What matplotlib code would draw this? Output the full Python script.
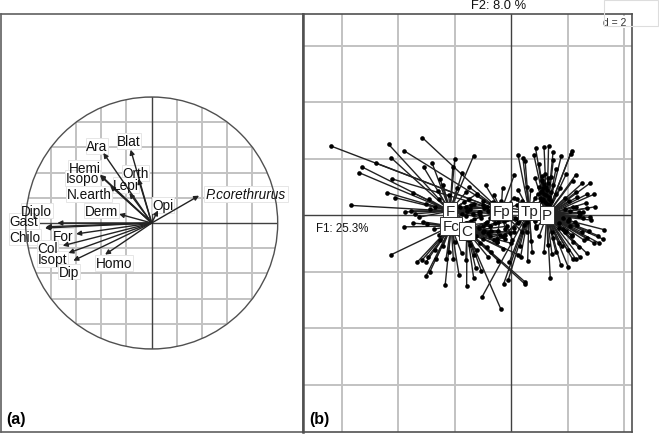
import matplotlib
matplotlib.use("Agg")
import matplotlib.pyplot as plt
from matplotlib.patches import Circle, Rectangle

plt.rcParams["font.family"] = ["Liberation Sans", "DejaVu Sans"]

# (a) correlation circle
species = ["P.corethrurus", "Opi", "Blat", "Ara", "Orth", "Lepi", "Hemi", "Isopo", "N.earth", "Derm",
           "Diplo", "Gast", "Chilo", "For", "Col", "Isopt", "Dip", "Homo"]
load_f1 = [0.376, 0.05, -0.167, -0.384, -0.106, -0.177, -0.41, -0.41, -0.33, -0.259,
           -0.749, -0.847, -0.84, -0.60, -0.706, -0.661, -0.622, -0.37]
load_f2 = [0.217, 0.10, 0.582, 0.556, 0.35, 0.238, 0.384, 0.376, 0.296, 0.071,
           0.0, -0.04, -0.03, -0.087, -0.18, -0.238, -0.299, -0.251]
label_x = [0.75, 0.09, -0.18, -0.434, -0.13, -0.204, -0.53, -0.548, -0.498, -0.397,
           -0.913, -1.013, -1.005, -0.70, -0.828, -0.786, -0.656, -0.299]
label_y = [0.23, 0.143, 0.65, 0.61, 0.397, 0.302, 0.437, 0.357, 0.23, 0.098,
           0.098, 0.016, -0.111, -0.103, -0.198, -0.286, -0.386, -0.317]

# (b) site scores by land use
centre_names = ["F", "Fc", "C", "Fp", "Tp", "P"]
centre_x = [-2.16, -2.12, -1.56, -0.35, 0.64, 1.27]
centre_y = [0.14, -0.39, -0.57, 0.14, 0.14, 0.0]

f_x = [-4.33, -4.25, -5.27, -5.38, -2.79, -3.09, -1.99, -2.06, -1.72, -1.32, -2.51, -4.38, -4.10, -3.48,
       -5.67, -3.74, -3.55, -3.41, -3.27, -2.9, -2.6, -2.4, -2.2, -1.9, -1.6, -3.0, -2.7, -1.5, -1.2, -1.0,
       -1.8, -1.65, -1.45, -1.3, -1.15, -0.95, -1.75, -1.55, -1.4, -1.1, -0.8, -2.85, -2.55, -2.3,
       -1.85, -1.6, -1.35, -1.05, -0.85, -0.65]
f_y = [2.50, 2.03, 1.70, 1.50, 1.83, 1.69, 1.98, 1.69, 1.50, 2.10, 1.28, 0.79, 0.61, 0.79,
       0.34, 0.11, 0.15, 0.04, -0.08, 0.55, 0.85, 1.05, 0.7, 0.95, 0.8, 0.4, 0.3, 0.55, 0.75, 0.35,
       0.3, 0.45, 0.2, 0.4, 0.1, 0.25, 0.05, 0.15, 0.35, 0.0, 0.15, 0.2, 0.55, 0.4,
       -0.1, -0.05, 0.05, -0.1, 0.3, 0.05]
fc_x = [-3.78, -3.46, -3.13, -2.96, -2.71, -2.56, -4.25, -3.32, -3.15, -3.01, -2.65, -2.87, -3.01, -2.33,
        -2.04, -1.84, -2.4, -2.2, -2.7, -2.0, -1.75, -1.5, -2.95, -2.5, -2.3, -1.2,
        -1.6, -1.4, -1.15, -0.9, -0.7, -1.8, -1.55, -1.25, -1.0, -0.75]
fc_y = [-0.42, -0.29, -0.24, -0.31, -0.50, -0.70, -1.41, -1.67, -1.60, -1.67, -1.56, -2.01, -2.16, -2.48,
        -1.56, -2.12, -1.1, -1.3, -1.25, -0.95, -1.35, -0.9, -1.5, -0.9, -1.55, -1.25,
        -0.3, -0.2, -0.45, -0.3, -0.55, -0.7, -0.8, -0.75, -0.85, -0.4]
c_x = [-1.57, -1.32, -1.25, -1.05, -0.36, -0.45, -0.86, -0.98, -0.27, -1.6, -1.3, -0.8, -0.6, -0.4,
       -1.1, -0.7, -0.2, 0.0, -1.45, -0.95, 0.51, 0.50, 0.25, 0.1, -0.55, -0.15,
       -0.85, -0.65, -0.45, -0.25, -0.05, 0.2, -0.75, -0.5, -0.3]
c_y = [-2.50, -2.24, -1.88, -1.98, -3.33, -1.62, -1.14, -0.61, -1.20, -1.6, -1.4, -1.5, -0.9, -0.7,
       -1.0, -1.3, -0.85, -1.0, -1.05, -0.55, -2.38, -2.45, -1.4, -0.6, -0.3, -0.4,
       -0.25, -0.15, -0.55, -0.2, -0.65, -0.15, -0.75, -0.95, -0.75]
fp_x = [-3.78, -4.78, -4.22, -3.14, -6.37, 0.12, -1.5, -1.2, -0.9, -0.7, -0.6, -0.45, -1.3, -1.0, -0.8,
        -0.5, -0.2, 0.05, 0.25, -1.6, -1.1, -0.75, -0.3, 0.1, 0.4,
        -1.0, -0.65, -0.35, -0.1, 0.2, 0.45, 0.15, -0.15, -0.45]
fp_y = [2.27, 1.84, 1.28, 2.74, 2.44, 1.43, 1.0, 0.7, 1.05, 0.42, 0.72, 0.2, -0.15, -0.4, -0.65,
        -0.85, -0.5, -0.9, -0.3, 0.3, 0.1, -0.1, 0.95, 0.6, -0.6,
        0.5, 0.45, 0.5, 0.4, 0.35, 0.1, -0.1, -0.15, -0.25]
tp_x = [0.25, 0.42, 0.50, 0.26, 0.58, -0.10, -0.26, -1.03, 0.34, -0.06, 0.59, 0.71, 0.32, 0.7, 0.85, 0.4,
        0.1, -0.2, -0.5, 0.55, 0.9, 0.2, -0.1, 0.75,
        0.95, 1.05, 0.85, 0.95, 0.7, 0.55, 0.3, 0.45, 0.85]
tp_y = [2.12, 2.02, 1.92, 0.87, 0.98, -2.31, -2.44, -2.91, -1.48, -1.67, -1.63, -0.91, -1.09, 0.9, 0.6, 0.5,
        -0.45, -0.7, -0.95, -0.6, -0.4, 0.55, 0.25, -1.3,
        0.75, 0.5, 0.35, 0.25, 0.35, -0.25, -0.2, -0.35, -0.2]
p_x = [0.87, 1.17, 1.33, 1.49, 1.78, 2.15, 2.11, 0.81, 1.50, 0.99, 1.59, 1.95, 2.29, 2.52, 2.80, 2.18,
       2.68, 2.93, 2.30, 2.33, 2.65, 2.98, 2.68, 2.80, 2.83, 3.30, 3.25, 3.08, 3.13, 2.95, 2.77, 2.68,
       2.68, 2.44, 2.29, 2.18, 2.02, 1.76, 1.59, 1.45, 1.17, 1.39, 0.85, 1.09,
       1.0, 1.1, 1.2, 1.3, 1.4, 1.05, 1.15, 1.25, 1.35, 1.5, 1.6, 1.75, 1.9, 2.05, 2.2, 2.4, 2.55,
       1.7, 1.85, 2.0, 2.15, 2.35, 2.5, 2.6, 1.8, 2.0, 2.2, 2.4, 1.5, 1.7, 1.9, 2.1, 1.3, 1.45, 1.0, 0.9,
       1.02, 1.1, 1.18, 1.26, 1.34, 1.42, 1.08, 1.16, 1.24, 1.32, 1.4, 1.12, 1.2, 1.28, 1.36,
       1.9, 2.1, 2.3, 2.45, 2.55, 1.85, 2.05, 2.25, 2.4, 1.7, 1.95, 2.15]
p_y = [2.36, 2.41, 2.45, 2.24, 2.09, 2.28, 2.16, 2.12, 1.95, 1.81, 1.63, 1.44, 1.42, 1.12, 1.13, 1.20,
       0.73, 0.73, 0.81, 0.63, 0.42, 0.29, 0.24, -0.08, -0.18, -0.52, -0.85, -0.73, -1.00, -1.00, -0.56, -0.81,
       -1.35, -1.50, -1.56, -1.56, -1.83, -1.76, -1.32, -1.38, -1.32, -2.23, 1.30, 1.39,
       1.0, 1.25, 1.45, 1.15, 1.35, 0.8, 0.95, 0.7, 0.55, 1.05, 0.75, 0.95, 0.6, 0.5, 0.3, 0.1, -0.1,
       -0.3, -0.5, -0.2, -0.7, -0.35, -0.6, -0.9, -1.1, -1.25, -0.95, -1.15, -0.8, -1.0, -0.6, -0.4, -1.05, -0.6, -0.75, -0.45,
       0.6, 0.85, 1.1, 0.9, 0.65, 0.5, 1.2, 0.75, 1.0, 1.3, 0.8, 0.55, 0.45, 0.4, 0.35,
       0.2, 0.15, 0.3, 0.05, 0.1, -0.1, -0.15, -0.25, -0.05, -0.45, -0.55, -0.75]
class_x = [f_x, fc_x, c_x, fp_x, tp_x, p_x]
class_y = [f_y, fc_y, c_y, fp_y, tp_y, p_y]

W, H = 659, 435
GRID = "#c2c2c2"
DARK = "#404040"


def make_axes(fig, x0, y0, x1, y1):
    # box given in pixels of the picture, y from the top
    return fig.add_axes([x0 / W, 1 - y1 / H, (x1 - x0) / W, (y1 - y0) / H])


fig = plt.figure(figsize=(W / 100, H / 100), dpi=100)

# panel a
ax = make_axes(fig, 1, 14.5, 303, 433)
ax.set_xlim((1 - 151.7) / 126, (303 - 151.7) / 126)
ax.set_ylim((224 - 433) / 126, (224 - 14.5) / 126)
circle = Circle((0, 0), 1, fill=False, ec="#505050", lw=1, zorder=3)
ax.add_patch(circle)
for k in range(-5, 6):
    if k == 0:
        continue
    v = k * 0.2
    ax.axvline(v, color=GRID, lw=1.4, clip_path=circle, zorder=1)
    ax.axhline(v, color=GRID, lw=1.4, clip_path=circle, zorder=1)
ax.axvline(0, color=DARK, lw=1, clip_path=circle, zorder=2)
ax.axhline(0, color=DARK, lw=1, clip_path=circle, zorder=2)
for x, y in zip(load_f1, load_f2):
    ax.annotate("", xy=(x, y), xytext=(0, 0), zorder=4,
                arrowprops=dict(arrowstyle="-|>", color="#222222", lw=1, mutation_scale=7, shrinkA=0, shrinkB=0))
labels = []
for name, lx, ly in zip(species, label_x, label_y):
    labels.append(ax.text(lx, ly, name, ha="center", va="center", fontsize=9.8, color="#111111", zorder=5,
                          style="italic" if name == "P.corethrurus" else "normal"))
ax.set_xticks([])
ax.set_yticks([])
for s in ax.spines.values():
    s.set_color("#606060")
    s.set_linewidth(1.2)
ax.text(0.017, 0.015, "(a)", transform=ax.transAxes, fontsize=11.5, fontweight="bold", va="bottom")

# white boxes go under the arrows and every label, so overlapping labels stay readable
fig.canvas.draw()
to_data = ax.transData.inverted()
for t in labels:
    ext = t.get_window_extent().expanded(1.04, 1.1)
    (x0, y0), (x1, y1) = to_data.transform([(ext.x0, ext.y0), (ext.x1, ext.y1)])
    ax.add_patch(Rectangle((x0, y0), x1 - x0, y1 - y0, fc="white", ec="#e6e6e6", lw=0.7, zorder=2.5))

# panel b
bx = make_axes(fig, 303, 14.5, 632, 433)
bx.set_xlim((303 - 511) / 28.25, (632 - 511) / 28.25)
bx.set_ylim((216 - 433) / 28.25, (216 - 14.5) / 28.25)
for k in [-6, -4, -2, 2, 4]:
    bx.axvline(k, color=GRID, lw=1.4, zorder=1)
for k in [-6, -4, -2, 2, 4, 6]:
    bx.axhline(k, color=GRID, lw=1.4, zorder=1)
bx.axvline(0, color=DARK, lw=1, zorder=2)
bx.axhline(0, color=DARK, lw=1, zorder=2)
for cx, cy, xs, ys in zip(centre_x, centre_y, class_x, class_y):
    for x, y in zip(xs, ys):
        bx.plot([cx, x], [cy, y], color="#222222", lw=1, zorder=3)
    bx.scatter(xs, ys, s=11, color="black", linewidths=0, zorder=4)
for name, cx, cy in zip(centre_names, centre_x, centre_y):
    bx.text(cx, cy, name, ha="center", va="center", fontsize=11, color="#222222", zorder=6,
            bbox=dict(fc="white", ec="#333333", lw=0.7, pad=1.6))
bx.text(-6.9, -0.46, "F1: 25.3%", fontsize=8.3, va="center", color="#111111", zorder=5)
bx.text(3.27, 6.83, "d = 2", fontsize=7.5, va="center", color="#333333", zorder=5,
        bbox=dict(fc="white", ec="none", pad=1))
bx.set_xticks([])
bx.set_yticks([])
for s in bx.spines.values():
    s.set_color("#505050")
    s.set_linewidth(1.2)
bx.spines["left"].set_linewidth(1.8)
bx.text(0.018, 0.015, "(b)", transform=bx.transAxes, fontsize=11.5, fontweight="bold", va="bottom")

fig.text(499 / W, 1 - 6 / H, "F2: 8.0 %", fontsize=9.3, ha="center", va="center", color="#111111")
fig.add_artist(Rectangle((604 / W, 1 - 27 / H), 54 / W, 26 / H, fill=False, ec="#dddddd", lw=0.8,
                         transform=fig.transFigure))

fig.savefig("out.png", dpi=100, facecolor="white")
